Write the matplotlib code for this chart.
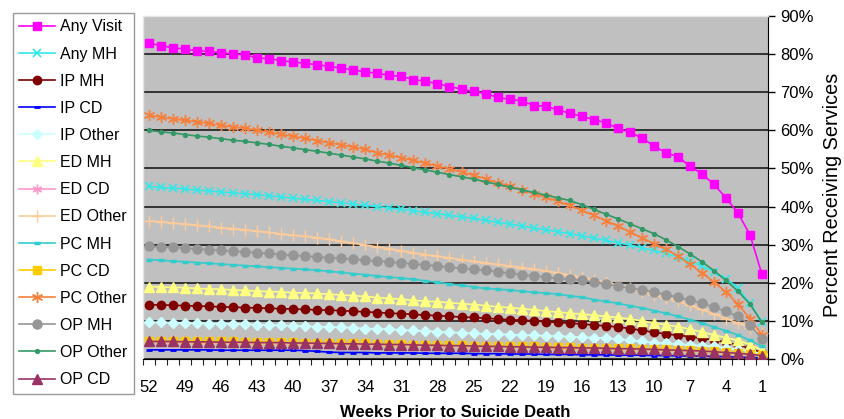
import matplotlib
matplotlib.use("Agg")
import matplotlib.pyplot as plt
from matplotlib.ticker import FixedLocator, FuncFormatter

plt.rcParams['font.family'] = ['Liberation Sans', 'DejaVu Sans']

weeks = list(range(52, 0, -1))
tick_weeks = [52, 49, 46, 43, 40, 37, 34, 31, 28, 25, 22, 19, 16, 13, 10, 7, 4, 1]

any_visit = [82.9, 82.2, 81.7, 81.3, 80.9, 80.7, 80.4, 80.0, 79.8, 79.0, 78.8, 78.3, 77.9,
             77.6, 77.2, 76.8, 76.3, 75.9, 75.3, 75.0, 74.4, 74.2, 73.3, 72.9, 72.2, 71.5,
             70.8, 70.2, 69.6, 68.7, 68.1, 67.8, 66.5, 66.3, 65.4, 64.5, 63.7, 62.8, 62.0,
             60.5, 59.5, 58.0, 55.9, 54.1, 53.1, 50.6, 48.6, 45.8, 42.3, 38.3, 32.6, 22.2]
any_mh = [45.3, 45.0, 44.8, 44.6, 44.3, 44.1, 43.8, 43.6, 43.3, 43.1, 42.8, 42.5, 42.2,
          41.9, 41.6, 41.3, 41.0, 40.6, 40.3, 40.0, 39.6, 39.3, 38.9, 38.5, 38.1, 37.7,
          37.3, 36.9, 36.4, 35.9, 35.4, 34.9, 34.4, 33.9, 33.4, 32.9, 32.3, 31.7, 31.1,
          30.5, 29.9, 29.2, 28.5, 27.7, 26.8, 25.7, 24.4, 22.9, 21.1, 18.6, 14.6, 9.8]
ip_mh = [14.2, 14.2, 14.1, 14.0, 13.9, 13.8, 13.7, 13.6, 13.5, 13.4, 13.3, 13.2, 13.1,
         13.0, 12.9, 12.8, 12.7, 12.5, 12.4, 12.2, 12.0, 11.9, 11.7, 11.5, 11.4, 11.2,
         11.0, 10.9, 10.7, 10.5, 10.3, 10.2, 10.0, 9.8, 9.6, 9.4, 9.2, 8.9, 8.7,
         8.4, 8.0, 7.5, 7.0, 6.6, 6.2, 5.9, 5.4, 5.0, 4.4, 3.7, 2.8, 1.6]
ip_cd = [2.4, 2.4, 2.4, 2.4, 2.4, 2.4, 2.3, 2.3, 2.3, 2.3, 2.3, 2.3, 2.3,
         2.2, 2.0, 1.8, 1.7, 1.7, 1.7, 1.6, 1.6, 1.6, 1.6, 1.5, 1.5, 1.5,
         1.5, 1.4, 1.4, 1.4, 1.3, 1.3, 1.3, 1.2, 1.2, 1.2, 1.1, 1.1, 1.1,
         1.0, 1.0, 1.0, 0.9, 0.9, 0.8, 0.8, 0.7, 0.7, 0.6, 0.5, 0.4, 0.3]
ip_other = [9.6, 9.6, 9.5, 9.5, 9.4, 9.3, 9.3, 9.2, 9.1, 9.0, 8.9, 8.8, 8.7,
            8.6, 8.5, 8.4, 8.3, 8.2, 8.0, 7.9, 7.8, 7.6, 7.5, 7.3, 7.2, 7.0,
            6.9, 6.7, 6.6, 6.5, 6.4, 6.3, 6.2, 6.1, 6.0, 5.9, 5.7, 5.6, 5.5,
            5.2, 4.9, 4.6, 4.3, 4.1, 3.9, 3.7, 3.5, 3.3, 2.9, 2.5, 2.0, 1.4]
ed_mh = [19.0, 18.9, 18.8, 18.7, 18.5, 18.4, 18.3, 18.1, 18.0, 17.8, 17.7, 17.6, 17.4,
         17.3, 17.2, 17.0, 16.8, 16.6, 16.4, 16.1, 15.9, 15.7, 15.4, 15.2, 15.0, 14.8,
         14.5, 14.3, 14.0, 13.7, 13.5, 13.2, 12.9, 12.6, 12.3, 12.0, 11.8, 11.5, 11.2,
         10.9, 10.5, 10.0, 9.5, 9.0, 8.5, 7.8, 7.1, 6.3, 5.6, 4.9, 3.8, 2.3]
ed_cd = [4.4, 4.4, 4.3, 4.3, 4.3, 4.2, 4.2, 4.2, 4.1, 4.1, 4.1, 4.0, 4.0,
         3.9, 3.9, 3.9, 3.8, 3.8, 3.7, 3.7, 3.6, 3.6, 3.5, 3.5, 3.4, 3.4,
         3.3, 3.3, 3.2, 3.2, 3.1, 3.1, 3.0, 3.0, 2.9, 2.9, 2.8, 2.8, 2.7,
         2.6, 2.6, 2.5, 2.4, 2.3, 2.2, 2.1, 2.0, 1.8, 1.6, 1.4, 1.2, 0.9]
ed_other = [36.2, 36.0, 35.7, 35.4, 35.1, 34.8, 34.5, 34.2, 33.9, 33.5, 33.2, 32.8, 32.5,
            32.2, 31.8, 31.4, 30.9, 30.4, 29.9, 29.4, 28.9, 28.4, 27.9, 27.4, 27.0, 26.5,
            26.1, 25.6, 25.2, 24.8, 24.4, 24.0, 23.6, 23.1, 22.6, 22.0, 21.4, 20.8, 20.2,
            19.4, 18.6, 17.7, 16.8, 16.0, 15.1, 14.1, 13.0, 11.8, 10.6, 9.4, 8.2, 6.8]
pc_mh = [26.1, 25.9, 25.7, 25.5, 25.3, 25.1, 24.9, 24.7, 24.5, 24.3, 24.1, 23.9, 23.7,
         23.5, 23.3, 23.0, 22.7, 22.4, 22.1, 21.8, 21.5, 21.2, 20.9, 20.5, 20.1, 19.7,
         19.3, 18.9, 18.5, 18.3, 18.1, 17.8, 17.5, 17.3, 17.0, 16.6, 16.2, 15.6, 15.1,
         14.6, 14.0, 13.4, 12.7, 12.0, 11.2, 10.3, 9.4, 8.4, 7.4, 6.3, 4.9, 3.3]
pc_cd = [4.8, 4.8, 4.7, 4.7, 4.7, 4.6, 4.6, 4.6, 4.5, 4.5, 4.5, 4.4, 4.4,
         4.3, 4.3, 4.2, 4.2, 4.1, 4.1, 4.0, 4.0, 3.9, 3.8, 3.8, 3.7, 3.7,
         3.6, 3.5, 3.5, 3.4, 3.4, 3.3, 3.3, 3.2, 3.2, 3.1, 3.0, 3.0, 2.9,
         2.8, 2.8, 2.7, 2.6, 2.5, 2.4, 2.3, 2.2, 2.0, 1.8, 1.6, 1.3, 1.0]
pc_other = [63.9, 63.5, 63.0, 62.6, 62.2, 61.8, 61.3, 60.9, 60.5, 60.0, 59.5, 59.0, 58.4,
            57.9, 57.3, 56.7, 56.2, 55.6, 55.0, 54.1, 53.5, 52.8, 52.1, 51.4, 50.6, 49.9,
            49.1, 48.2, 47.3, 46.3, 45.4, 44.4, 43.4, 42.4, 41.4, 40.3, 39.0, 37.7, 36.3,
            34.9, 33.4, 31.8, 30.3, 28.8, 27.0, 24.9, 22.6, 20.2, 17.6, 14.4, 10.6, 6.3]
op_mh = [29.6, 29.4, 29.3, 29.1, 28.9, 28.7, 28.5, 28.3, 28.1, 27.9, 27.7, 27.4, 27.2,
         27.0, 26.8, 26.6, 26.4, 26.2, 25.9, 25.7, 25.5, 25.2, 25.0, 24.7, 24.4, 24.1,
         23.8, 23.6, 23.3, 22.9, 22.5, 22.1, 21.8, 21.5, 21.2, 20.9, 20.6, 20.2, 19.7,
         19.1, 18.6, 18.1, 17.6, 16.9, 16.2, 15.4, 14.6, 13.6, 12.5, 11.2, 9.0, 5.2]
op_other = [60.0, 59.6, 59.3, 58.9, 58.5, 58.2, 57.8, 57.4, 57.1, 56.7, 56.3, 55.8, 55.4,
            54.9, 54.5, 54.0, 53.5, 53.0, 52.5, 51.9, 51.4, 50.8, 50.2, 49.6, 49.0, 48.4,
            47.8, 47.2, 46.5, 45.8, 45.1, 44.4, 43.7, 43.0, 42.3, 41.6, 40.5, 39.3, 38.0,
            36.8, 35.5, 34.2, 32.9, 31.3, 29.5, 27.6, 25.5, 23.2, 20.6, 17.8, 14.4, 9.6]
op_cd = [4.6, 4.6, 4.6, 4.5, 4.5, 4.5, 4.4, 4.4, 4.4, 4.3, 4.3, 4.3, 4.2,
         4.2, 4.1, 4.1, 4.0, 4.0, 3.9, 3.9, 3.8, 3.8, 3.7, 3.6, 3.6, 3.5,
         3.5, 3.4, 3.3, 3.3, 3.2, 3.2, 3.1, 3.1, 3.0, 3.0, 2.9, 2.9, 2.8,
         2.7, 2.7, 2.6, 2.5, 2.4, 2.3, 2.2, 2.1, 1.9, 1.7, 1.5, 1.2, 0.9]

star = (6, 2, 0)
series = [
    ("Any Visit", any_visit, dict(color="#FF00FF", marker="s", ms=6.3, mfc="#FF00FF", mec="#FF00FF")),
    ("Any MH", any_mh, dict(color="#33E8E8", marker="x", ms=6, mew=1.2)),
    ("IP MH", ip_mh, dict(color="#800000", marker="o", ms=6)),
    ("IP CD", ip_cd, dict(color="#0000FF", marker="_", ms=4, mew=2)),
    ("IP Other", ip_other, dict(color="#CCFFFF", marker="D", ms=5)),
    ("ED MH", ed_mh, dict(color="#FFFF80", marker="^", ms=7)),
    ("ED CD", ed_cd, dict(color="#FF99CC", marker=star, ms=7, mew=1)),
    ("ED Other", ed_other, dict(color="#FFCC99", marker="+", ms=8, mew=1)),
    ("PC MH", pc_mh, dict(color="#33CCCC", marker="_", ms=5, mew=2.5)),
    ("PC CD", pc_cd, dict(color="#FFCC00", marker="s", ms=5.5)),
    ("PC Other", pc_other, dict(color="#F7803C", marker=star, ms=8, mew=1)),
    ("OP MH", op_mh, dict(color="#969696", marker="o", ms=6.5)),
    ("OP Other", op_other, dict(color="#339966", marker="o", ms=2.8)),
    ("OP CD", op_cd, dict(color="#993366", marker="^", ms=7)),
]

fig = plt.figure(figsize=(8.45, 4.19), dpi=100)
ax = fig.add_axes([143/845, 1-359/419, (768-143)/845, (359-16)/419])
ax.set_facecolor("#C0C0C0")

handles = []
for name, vals, st in series:
    h, = ax.plot(weeks, vals, lw=1.2, label=name, zorder=3, **st)
    handles.append(h)

ax.set_xlim(52.5, 0.5)
ax.set_ylim(0, 90)
ax.yaxis.tick_right()
ax.set_yticks(range(0, 91, 10))
ax.yaxis.set_major_formatter(FuncFormatter(lambda v, p: f"{int(v)}%"))
ax.tick_params(axis="y", direction="out", length=5, width=1, labelsize=12, pad=4, colors="black")
ax.grid(axis="y", color="#333333", lw=1.4, zorder=1)
ax.set_axisbelow(True)

ax.xaxis.set_major_locator(FixedLocator(tick_weeks))
ax.xaxis.set_minor_locator(FixedLocator([w + 0.5 for w in range(0, 53)]))
ax.tick_params(axis="x", which="major", length=0, labelsize=12, pad=15)
ax.tick_params(axis="x", which="minor", length=4, width=0.8, direction="out", color="#222222")

for s in ["top", "left"]:
    ax.spines[s].set_color("#E6E6E6")
    ax.spines[s].set_linewidth(1)
ax.spines["right"].set_color("black")
ax.spines["bottom"].set_color("black")

ax.set_xlabel("Weeks Prior to Suicide Death", fontsize=12, fontweight="bold", labelpad=7)
fig.text(833/845, 1-195/419, "Percent Receiving Services", fontsize=14.3, rotation=90,
         ha="center", va="center")

leg = fig.legend(handles=handles, loc="upper left", bbox_to_anchor=(13/845, 1-13/419),
                 fontsize=11.5, frameon=True, fancybox=False, edgecolor="#808080",
                 handlelength=2.2, handletextpad=0.35, labelspacing=0.76, borderpad=0.4,
                 borderaxespad=0)
leg.get_frame().set_linewidth(1)

fig.savefig("out.png", dpi=100, facecolor="white")
